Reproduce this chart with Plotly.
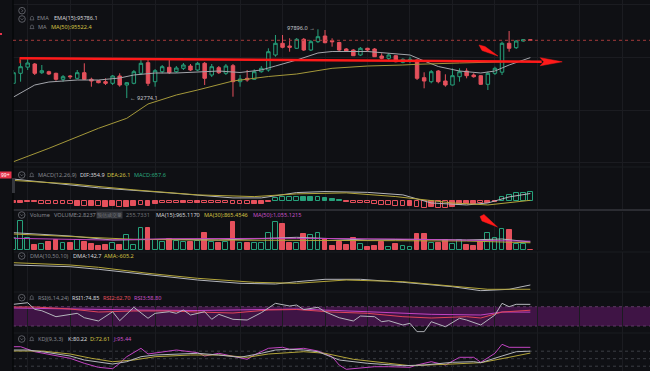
import plotly.graph_objects as go

W, H = 650, 371
BG = "#0f1014"
GREEN = "#26a17b"
RED = "#e5505c"
GRAY_LINE = "#b4b6bc"
YEL_LINE = "#b3a53a"
MAG = "#c244c2"
TXT_GRAY = "#85888f"
TXT_WHITE = "#d4d6da"
TXT_YEL = "#d2c243"

# ---------------- candles ----------------
opens = [93873, 94618, 95079, 95311, 94663, 94737, 94618, 94171, 94417, 94246,
         94663, 94171, 94067, 93992, 93873, 94417, 93746, 93873, 94618, 95408,
         93992, 94737, 95065, 94737, 94991, 95162, 94864, 95363, 94491, 95035,
         94618, 95184, 93992, 94246, 94171, 94737, 94864, 95981, 96853, 96652,
         96481, 97151, 96354, 96972, 97397, 97047, 96913, 96428, 96354, 95981,
         96481, 96428, 95907, 95736, 95929, 95438, 95534, 95609, 94290, 93992,
         94789, 94044, 93746, 94365, 94789, 94491, 94439, 93799, 94618, 94700,
         96853, 96525, 97024, 97121]
highs = [94864, 95609, 95683, 95385, 95236, 94812, 94663, 94491, 94491, 94864,
         95363, 94290, 94119, 94246, 94491, 94618, 93970, 94864, 95609, 95609,
         94938, 95236, 95609, 95162, 95385, 95311, 95460, 95460, 95311, 95162,
         95311, 95311, 94491, 94864, 94916, 95162, 96481, 97471, 97471, 97226,
         97248, 97248, 97099, 97896.0, 97844, 97226, 96972, 96503, 96428, 96577,
         96520, 96503, 96108, 96108, 95981, 95736, 95855, 95640, 94693, 94864,
         94864, 94544, 94991, 94991, 94991, 94618, 94491, 94737, 95110, 96972,
         97769, 97099, 97173, 97140]
lows = [93821, 93992, 94864, 94491, 94566, 94491, 94067, 93992, 94193, 94171,
        94119, 93620, 93873, 93746, 93746, 93620, 92774.1, 93799, 94491, 93672,
        93620, 94618, 94566, 94640, 94864, 94789, 94789, 93746, 94342, 94566,
        94491, 92875, 93620, 93992, 94119, 94663, 94737, 95855, 96481, 96227,
        96428, 96279, 96279, 96875, 96853, 96600, 96227, 96205, 95907, 95907,
        96227, 95832, 95661, 95609, 95438, 95363, 95363, 94119, 93501, 93873,
        93873, 93620, 93720, 93992, 94246, 94290, 93746, 93374, 94491, 94491,
        96227, 96428, 96972, 97060]
closes = [94663, 95110, 95385, 94618, 94812, 94566, 94171, 94365, 94365, 94663,
          94171, 94044, 93918, 93873, 94417, 93746, 93918, 94737, 95363, 93873,
          94812, 95110, 94663, 95013, 95236, 94864, 95363, 94246, 95110, 94663,
          95162, 93992, 94193, 94119, 94737, 94991, 96227, 96853, 96555, 96555,
          97151, 96354, 96972, 97345, 96898, 96972, 96354, 96279, 95929, 96481,
          96354, 95855, 95736, 95981, 95482, 95661, 95661, 94246, 94044, 94737,
          93992, 93746, 94439, 94737, 94439, 94365, 93799, 94618, 94991, 96853,
          96481, 97024, 97121, 97077]
idx = list(range(len(closes)))

ema_x = [0, 3, 5, 9, 12, 15, 17, 20, 23, 26, 29, 32, 35, 37, 40, 43, 45, 50, 53, 56, 58, 60, 63, 66, 68, 70, 73]
ema_y = [92852, 93747, 93970, 94119, 94119, 94268, 94492, 94640, 94640, 94715, 94789, 94678, 94864, 95162,
         95609, 96131, 96243, 96243, 96131, 95982, 95535, 95125, 94789, 94640, 94789, 95237, 95786.1]
ma50_x = [0, 5, 12, 16, 19, 23, 26, 31, 36, 40, 45, 50, 55, 57, 63, 69, 73]
ma50_y = [88032, 89031, 90521, 91266, 92331, 93002, 93374, 94045, 94380, 94566, 94991, 95162, 95237,
          95289, 95386, 95438, 95522.4]

# ---------------- MACD ----------------
macd_hist = [-158, -158, -79, -103, -237, -237, -237, -237, -237, -419, -419, -419, -419, -474, -419,
             -474, -529, -419, -340, -419, -261, -213, -213, -158, -158, -158, -158, -158, -158, -182,
             -182, -237, -237, -292, -277, -237, -79, 213, 261, 261, 261, 261, 261, 261, 182, 134, 55,
             -103, -158, -213, -213, -261, -340, -340, -395, -419, -395, -529, -608, -529, -553, -608,
             -474, -340, -261, -261, -213, -158, -79, 261, 450, 577, 632, 657.6]
macd_hollow = [0, 0, 0, 0, 1, 1, 1, 1, 1, 0, 1, 0, 1, 0, 0, 1, 0, 0, 1, 0, 0, 1, 1, 1, 0, 1, 0, 1, 1, 1,
               1, 1, 1, 1, 0, 0, 0, 1, 1, 1, 1, 0, 0, 1, 0, 0, 0, 0, 1, 1, 1, 1, 1, 1, 1, 1, 0, 1, 1, 0,
               1, 1, 0, 0, 0, 0, 1, 0, 0, 1, 1, 1, 1, 1]
dif_x = [0, 8, 12, 22, 31, 35, 38, 40, 44, 50, 55, 59, 64, 67, 70, 73]
dif_y = [1691, 1240, 1003, 608, 213, 213, 450, 632, 711, 648, 450, -182, -340, -182, 292, 560]
dea_x = [0, 8, 17, 26, 34, 40, 47, 54, 62, 67, 73]
dea_y = [1580, 1319, 845, 450, 316, 529, 608, 316, -182, -340, 26.1]

# ---------------- Volume ----------------
volume = [1440, 3516, 1404, 600, 720, 996, 1200, 804, 876, 1200, 996, 720, 480, 600, 804, 600, 1800,
          600, 2676, 2604, 1200, 996, 1320, 1116, 996, 996, 1080, 2004, 996, 876, 996, 3396, 804, 876,
          876, 804, 2004, 3396, 3120, 804, 804, 1920, 1800, 2076, 1284, 480, 996, 600, 1404, 720, 396,
          480, 996, 396, 720, 480, 324, 1920, 1920, 804, 804, 1200, 720, 1200, 600, 480, 996, 2004,
          1404, 2484, 2400, 720, 720, 2.8237]
vma15_x = [0, 8, 14, 22, 29, 40, 50, 57, 64, 69, 73]
vma15_y = [2076, 1680, 1200, 1284, 1200, 1524, 1200, 1284, 1200, 1320, 965.117]
vma30_x = [0, 8, 17, 26, 40, 54, 64, 73]
vma30_y = [1920, 1596, 1284, 1200, 1116, 1116, 1080, 865.4546]
vma50_x = [0, 13, 22, 40, 54, 73]
vma50_y = [1404, 1200, 1356, 1404, 1320, 1055.1215]

# ---------------- DMA ----------------
dma_x = [0, 8, 12, 19, 26, 32, 37, 40, 44, 49, 55, 62, 66, 70, 73]
dma_y = [3619, 3323, 2871, 1879, 1009, 435, 313, 713, 1131, 1131, 609, -157, -853, -609, 142.7]
ama_x = [0, 8, 12, 19, 26, 34, 40, 47, 55, 62, 67, 73]
ama_y = [4019, 3619, 3219, 2175, 1305, 609, 435, 1009, 713, -35, -609, -605.2]

# ---------------- RSI ----------------
rsi1_x = [0, 2, 3, 4, 6, 8, 9, 10, 12, 14, 15, 17, 19, 20, 22, 23, 24, 25, 27, 28, 29, 31, 33, 35, 37,
          39, 40, 41, 43, 44, 46, 48, 49, 51, 52, 53, 55, 56, 57, 58, 59, 61, 63, 64, 66, 68, 69, 70, 71, 73]
rsi1_y = [75.0, 78.3, 64.6, 61.7, 49.3, 54.2, 56.3, 47.2, 40.4, 59.6, 41.0, 68.8, 46.0, 56.3, 59.6, 56.3,
          63.2, 52.8, 59.6, 43.9, 54.2, 43.9, 42.4, 57.6, 77.0, 71.5, 73.5, 64.0, 68.8, 59.6, 47.2, 40.4,
          50.7, 49.3, 38.9, 41.0, 32.1, 35.6, 18.2, 18.2, 38.9, 28.5, 46.0, 42.4, 32.1, 52.8, 77.0, 70.0,
          75.0, 74.85]
rsi2_x = [0, 3, 8, 12, 17, 22, 26, 31, 36, 40, 45, 50, 55, 59, 64, 66, 69, 73]
rsi2_y = [69.4, 69.4, 65.3, 59.0, 61.1, 61.1, 59.0, 56.9, 63.2, 64.2, 59.0, 56.3, 49.3, 46.6, 49.3, 46.6, 59.0, 62.70]
rsi3_x = [0, 8, 17, 26, 36, 40, 50, 59, 66, 69, 73]
rsi3_y = [67.3, 65.2, 63.2, 62.1, 63.2, 65.2, 59.6, 54.2, 52.8, 59.0, 58.80]

# ---------------- KDJ ----------------
k_x = [0, 2, 4, 8, 10, 12, 14, 16, 18, 20, 22, 26, 29, 32, 35, 37, 39, 41, 43, 46, 50, 55, 58, 62, 65, 66, 69, 71, 73]
k_y = [84.8, 84.8, 78, 60.8, 44.8, 35.6, 28.8, 38, 58, 64.8, 67.6, 71.6, 64.8, 55.6, 71.6, 84.8, 87.6,
       84.8, 78, 44.8, 31.6, 22, 24.8, 35.6, 38, 34, 60.8, 78, 80.22]
d_x = [0, 4, 8, 11, 14, 17, 20, 25, 29, 33, 36, 41, 44, 48, 53, 56, 62, 66, 70, 73]
d_y = [80.8, 80.8, 68.8, 51.6, 38, 44.8, 58, 64.8, 64.8, 55.6, 68.8, 78, 71.6, 47.6, 31.6, 22, 28.8, 34, 55.6, 72.61]
j_x = [0, 1, 3, 6, 8, 10, 12, 14, 15, 16, 18, 19, 21, 23, 26, 27, 29, 31, 33, 34, 36, 38, 39, 41, 43, 45,
       46, 47, 49, 51, 53, 56, 57, 59, 61, 63, 65, 66, 68, 69, 70, 73]
j_y = [98, 98, 78, 60.8, 51.6, 31.6, 15.6, 10, 31.6, 58, 91.6, 68.8, 78, 84.8, 74, 60.8, 71.6, 60.8, 47.6,
       64.8, 91.6, 95.6, 87.6, 91.6, 80.8, 58, 24.8, 7.6, 11.6, 18, 18, 15.6, 24.8, 38, 24.8, 55.6, 55.6,
       35.6, 71.6, 107.6, 95.6, 95.44]

# --------------- layout helpers ---------------
def ydom(top, bot):
    return [1 - bot / H, 1 - top / H]

def px(x):
    return x / W

def py(y):
    return 1 - y / H

XDOM = [13 / W, 1]
XRANGE = [-0.07, 89.9]
GRID = "#1b1c21"

fig = go.Figure()

# main
fig.add_trace(go.Candlestick(
    x=idx, open=opens, high=highs, low=lows, close=closes,
    increasing=dict(line=dict(color=GREEN, width=1), fillcolor=BG),
    decreasing=dict(line=dict(color=RED, width=1), fillcolor=RED),
    whiskerwidth=0, xaxis="x", yaxis="y", hoverinfo="skip"))
fig.add_trace(go.Scatter(x=ema_x, y=ema_y, mode="lines", line=dict(color="#a3a5ab", width=1),
                         xaxis="x", yaxis="y"))
fig.add_trace(go.Scatter(x=ma50_x, y=ma50_y, mode="lines", line=dict(color="#a4983a", width=1),
                         xaxis="x", yaxis="y"))

# macd
mcol = [GREEN if v >= 0 else RED for v in macd_hist]
mfill = [BG if h else c for h, c in zip(macd_hollow, mcol)]
fig.add_trace(go.Bar(x=idx, y=macd_hist, width=0.68, marker=dict(color=mfill, line=dict(color=mcol, width=1)),
                     xaxis="x2", yaxis="y2"))
fig.add_trace(go.Scatter(x=dif_x, y=dif_y, mode="lines", line=dict(color=GRAY_LINE, width=1), xaxis="x2", yaxis="y2"))
fig.add_trace(go.Scatter(x=dea_x, y=dea_y, mode="lines", line=dict(color=YEL_LINE, width=1), xaxis="x2", yaxis="y2"))

# volume
vcol = [GREEN if c >= o else RED for o, c in zip(opens, closes)]
vfill = [BG if c >= o else RED for o, c in zip(opens, closes)]
fig.add_trace(go.Bar(x=idx, y=volume, width=0.68, marker=dict(color=vfill, line=dict(color=vcol, width=1)),
                     xaxis="x3", yaxis="y3"))
fig.add_trace(go.Scatter(x=vma15_x, y=vma15_y, mode="lines", line=dict(color=GRAY_LINE, width=1), xaxis="x3", yaxis="y3"))
fig.add_trace(go.Scatter(x=vma30_x, y=vma30_y, mode="lines", line=dict(color=YEL_LINE, width=1), xaxis="x3", yaxis="y3"))
fig.add_trace(go.Scatter(x=vma50_x, y=vma50_y, mode="lines", line=dict(color=MAG, width=1), xaxis="x3", yaxis="y3"))

# dma
fig.add_trace(go.Scatter(x=dma_x, y=dma_y, mode="lines", line=dict(color=GRAY_LINE, width=1), xaxis="x4", yaxis="y4"))
fig.add_trace(go.Scatter(x=ama_x, y=ama_y, mode="lines", line=dict(color=YEL_LINE, width=1), xaxis="x4", yaxis="y4"))

# rsi
fig.add_trace(go.Scatter(x=rsi3_x, y=rsi3_y, mode="lines", line=dict(color=MAG, width=1), xaxis="x5", yaxis="y5"))
fig.add_trace(go.Scatter(x=rsi2_x, y=rsi2_y, mode="lines", line=dict(color="#e0455a", width=1), xaxis="x5", yaxis="y5"))
fig.add_trace(go.Scatter(x=rsi1_x, y=rsi1_y, mode="lines", line=dict(color=GRAY_LINE, width=1), xaxis="x5", yaxis="y5"))

# kdj
fig.add_trace(go.Scatter(x=j_x, y=j_y, mode="lines", line=dict(color=MAG, width=1), xaxis="x6", yaxis="y6"))
fig.add_trace(go.Scatter(x=d_x, y=d_y, mode="lines", line=dict(color=YEL_LINE, width=1), xaxis="x6", yaxis="y6"))
fig.add_trace(go.Scatter(x=k_x, y=k_y, mode="lines", line=dict(color=GRAY_LINE, width=1), xaxis="x6", yaxis="y6"))

# axes
panes = {
    "": (0, 168, [87563, 100079]),
    "2": (168, 210, [-735, 2559]),
    "3": (212, 250, [0, 4560]),
    "4": (252, 292, [-1079, 5881]),
    "5": (292, 333, [15.5, 100.5]),
    "6": (333, 371, [0.8, 152.8]),
}
lay = {}
for k, (t, b, r) in panes.items():
    lay["xaxis" + k] = dict(domain=XDOM, range=XRANGE, anchor="y" + k, showticklabels=False,
                            tickvals=list(range(2, 90, 6)), showgrid=True, gridcolor=GRID, gridwidth=1,
                            zeroline=False, showline=False, ticks="",
                            **({} if k == "" else {"matches": "x"}))
    lay["yaxis" + k] = dict(domain=ydom(t, b), range=r, anchor="x" + k, showticklabels=False,
                            showgrid=False, zeroline=False, showline=False, ticks="")
lay["xaxis"]["rangeslider"] = dict(visible=False)
lay["yaxis"]["showgrid"] = True
lay["yaxis"]["gridcolor"] = GRID
lay["yaxis"]["tickvals"] = [99707, 95795, 91884, 87973]

fig.update_layout(width=W, height=H, margin=dict(l=0, r=0, t=0, b=0), paper_bgcolor=BG,
                  plot_bgcolor=BG, showlegend=False, bargap=0, hovermode=False, **lay)

shapes = []
# separators / faint lines
shapes.append(dict(type="line", xref="paper", yref="paper", x0=px(13), x1=1, y0=py(210), y1=py(210),
                   line=dict(color="#2b2c32", width=2)))
for yy in (167, 252, 292, 333):
    shapes.append(dict(type="line", xref="paper", yref="paper", x0=px(13), x1=1, y0=py(yy), y1=py(yy),
                       line=dict(color=GRID, width=1)))
shapes.append(dict(type="line", xref="paper", yref="paper", x0=px(13), x1=px(13), y0=0, y1=1,
                   line=dict(color="#060708", width=1.5)))
# current price dashed line
shapes.append(dict(type="line", xref="paper", yref="y", x0=px(13), x1=1, y0=closes[-1], y1=closes[-1],
                   line=dict(color="#a33a3a", width=1, dash="3px,3px")))
# RSI band
shapes.append(dict(type="rect", xref="x5 domain", yref="y5", x0=0, x1=1, y0=30, y1=70,
                   fillcolor="#3f1445", line=dict(width=0), layer="below"))
for lv in (30, 70):
    shapes.append(dict(type="line", xref="x5 domain", yref="y5", x0=0, x1=1, y0=lv, y1=lv,
                       line=dict(color="#5e3a64", width=1, dash="3px,3px"), layer="below"))
for lv in (20, 50, 80):
    shapes.append(dict(type="line", xref="x6 domain", yref="y6", x0=0, x1=1, y0=lv, y1=lv,
                       line=dict(color="#3c3d44", width=1, dash="3px,3px"), layer="below"))

# user drawings (data coordinates)
trend = dict(i0=0.92, p0=95736, i1=74.6, p1=95482)
shapes.append(dict(type="line", xref="x", yref="y", x0=trend["i0"], y0=trend["p0"], x1=trend["i1"], y1=trend["p1"],
                   line=dict(color="#ff1a1a", width=2.5)))
shapes.append(dict(type="line", xref="x", yref="y", x0=trend["i0"], y0=95811, x1=trend["i0"], y1=95364,
                   line=dict(color="#ff1a1a", width=1.2)))
shapes.append(dict(type="path", xref="x", yref="y",
                   path="M 74.4 95780 L 77.5 95475 L 74.4 95180 L 74.9 95480 Z",
                   fillcolor="#ff1a1a", line=dict(color="#ff1a1a", width=0.5)))
shapes.append(dict(type="path", xref="x", yref="y",
                   path="M 65.75 96727 L 66.6 96615 L 68.43 95907 L 66.17 96317 Z",
                   fillcolor="#ff1a1a", line=dict(color="#ff1a1a", width=0.5)))
shapes.append(dict(type="path", xref="x3", yref="y3",
                   path="M 65.9 4020 L 66.45 4260 L 68.36 2760 L 66.17 3480 Z",
                   fillcolor="#ff1a1a", line=dict(color="#ff1a1a", width=0.5)))

# left strip bits
shapes.append(dict(type="rect", xref="paper", yref="paper", x0=px(-3), x1=px(11.5), y0=py(178.5), y1=py(171.5),
                   fillcolor="#e5334b", line=dict(width=0)))
shapes.append(dict(type="rect", xref="paper", yref="paper", x0=px(12), x1=px(15), y0=py(193), y1=py(178),
                   fillcolor="#34363c", line=dict(width=0)))
shapes.append(dict(type="rect", xref="paper", yref="paper", x0=px(0), x1=px(2), y0=py(35), y1=py(33),
                   fillcolor="#e5334b", line=dict(width=0)))

# icons
def circ(cx, cy, chevron="v"):
    r = 3.3
    shapes.append(dict(type="circle", xref="paper", yref="paper", x0=px(cx - r), x1=px(cx + r),
                       y0=py(cy + r), y1=py(cy - r), line=dict(color="#6c6f76", width=0.8)))
    if chevron == "v":
        p = f"M {px(cx-1.4)} {py(cy-0.6)} L {px(cx)} {py(cy+0.8)} L {px(cx+1.4)} {py(cy-0.6)}"
    else:
        p = f"M {px(cx-0.6)} {py(cy-1.4)} L {px(cx+0.8)} {py(cy)} L {px(cx-0.6)} {py(cy+1.4)}"
    shapes.append(dict(type="path", xref="paper", yref="paper", path=p, line=dict(color="#6c6f76", width=0.8)))

def bell(cx, cy):
    pts = [(-2.0, 1.6), (2.0, 1.6), (1.4, 0.7), (1.4, -0.9), (0.7, -1.9), (-0.7, -1.9), (-1.4, -0.9), (-1.4, 0.7)]
    p = "M " + " L ".join(f"{px(cx+a)} {py(cy+b)}" for a, b in pts) + " Z"
    shapes.append(dict(type="path", xref="paper", yref="paper", path=p, line=dict(color="#6c6f76", width=0.7)))

circ(22, 10.7, ">")
circ(22, 19)
bell(32, 18.3)
bell(32, 27)
for yy in (175, 297.7, 339):
    circ(21.7, yy)
    bell(31.7, yy)
circ(21.7, 215)
circ(21.7, 256)

FONT = "Noto Sans"
FS = 5.6

anns = []
def t(x, y, s, c, size=FS, **kw):
    anns.append(dict(x=px(x), y=py(y), xref="paper", yref="paper", text=s, showarrow=False,
                     xanchor="left", yanchor="middle", font=dict(family=FONT, size=size, color=c), **kw))

t(35, 18.3, "EMA", TXT_GRAY)
t(52, 18.3, "EMA(15):95786.1", TXT_WHITE)
t(36, 27, "MA", TXT_GRAY)
t(48.5, 27, "MA(50):95522.4", TXT_YEL)

t(35.5, 175, "MACD(12,26,9)", TXT_GRAY)
t(77.5, 175, "DIF:354.9", TXT_WHITE)
t(104.5, 175, "DEA:26.1", TXT_YEL)
t(131.5, 175, "MACD:657.6", "#2aa87f")

t(27.5, 215, "Volume", TXT_GRAY)
t(51.5, 215, "VOLUME:2.8237", TXT_GRAY)
t(96.5, 215, "预估成交量", "#6f7278", size=4.6, bgcolor="#34363c", borderpad=0)
t(123.5, 215, "255.7331", "#6f7278")
t(153.5, 215, "MA(15):965.1170", TXT_WHITE)
t(201.5, 215, "MA(30):865.4546", TXT_YEL)
t(250.5, 215, "MA(50):1,055.1215", "#c750c7")

t(27.5, 256, "DMA(10,50,10)", TXT_GRAY)
t(70.5, 256, "DMA:142.7", TXT_WHITE)
t(101.5, 256, "AMA:-605.2", TXT_YEL)

t(35.5, 297.7, "RSI(6,14,24)", TXT_GRAY)
t(69.5, 297.7, "RSI1:74.85", TXT_WHITE)
t(100.5, 297.7, "RSI2:62.70", "#e8505f")
t(131.5, 297.7, "RSI3:58.80", "#c750c7")

t(35.5, 339, "KDJ(9,3,3)", TXT_GRAY)
t(65.5, 339, "K:80.22", TXT_WHITE)
t(87.5, 339, "D:72.61", TXT_YEL)
t(110.5, 339, "J:95.44", "#c750c7")

t(-1.5, 175, "99+", "#ffffff", size=5)

hi_i = highs.index(max(highs))
lo_i = lows.index(min(lows))
anns.append(dict(x=hi_i, y=highs[hi_i], xref="x", yref="y", text=f"{max(highs):.1f} →", showarrow=False,
                 xanchor="right", yanchor="middle", xshift=-1, yshift=1.5,
                 font=dict(family=FONT, size=FS, color="#c4c6cc")))
anns.append(dict(x=lo_i, y=lows[lo_i], xref="x", yref="y", text=f"← {min(lows):.1f}", showarrow=False,
                 xanchor="left", yanchor="middle", xshift=1, yshift=0.5,
                 font=dict(family=FONT, size=FS, color="#c4c6cc")))

fig.update_layout(shapes=shapes, annotations=anns)
fig.write_html("out.html", config={"displayModeBar": False},
               post_script="document.body.style.margin='0';document.body.style.background='%s';"
                           "document.documentElement.style.background='%s';" % (BG, BG))
